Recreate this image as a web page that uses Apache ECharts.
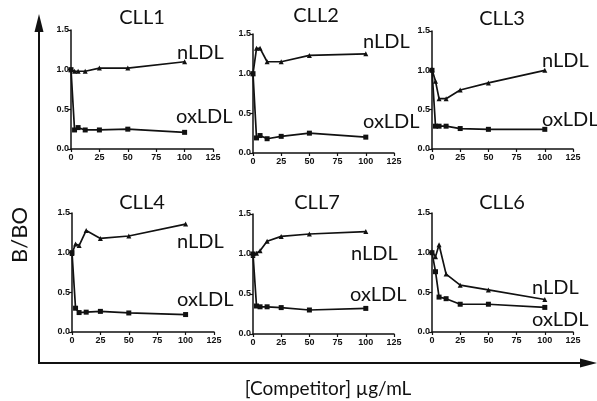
<!DOCTYPE html>
<html><head><meta charset="utf-8">
<script src="https://cdn.jsdelivr.net/npm/echarts@6/dist/echarts.min.js"></script>
<style>html,body{margin:0;padding:0;background:#fff}#c{width:597px;height:401px}</style>
</head><body><div id="c"></div>
<script>
var xValues = [0, 3.125, 6.25, 12.5, 25, 50, 100];
var panelNames = ['CLL1', 'CLL2', 'CLL3', 'CLL4', 'CLL7', 'CLL6'];
var nLDL_CLL1 = [1.00, 0.98, 0.98, 0.98, 1.02, 1.02, 1.10];
var oxLDL_CLL1 = [1.00, 0.24, 0.27, 0.24, 0.24, 0.25, 0.21];
var nLDL_CLL2 = [1.00, 1.32, 1.32, 1.15, 1.15, 1.23, 1.25];
var oxLDL_CLL2 = [1.00, 0.19, 0.22, 0.18, 0.21, 0.25, 0.20];
var nLDL_CLL3 = [1.01, 0.86, 0.64, 0.64, 0.75, 0.84, 1.00];
var oxLDL_CLL3 = [1.00, 0.29, 0.29, 0.29, 0.26, 0.25, 0.25];
var nLDL_CLL4 = [0.99, 1.11, 1.09, 1.28, 1.18, 1.21, 1.36];
var oxLDL_CLL4 = [1.00, 0.30, 0.245, 0.25, 0.26, 0.24, 0.22];
var nLDL_CLL7 = [0.98, 1.01, 1.04, 1.16, 1.22, 1.25, 1.28];
var oxLDL_CLL7 = [1.00, 0.35, 0.34, 0.34, 0.33, 0.30, 0.32];
var nLDL_CLL6 = [1.01, 0.95, 1.10, 0.73, 0.59, 0.53, 0.41];
var oxLDL_CLL6 = [1.00, 0.76, 0.44, 0.42, 0.35, 0.35, 0.31];
var yTicks = ['0.0', '0.5', '1.0', '1.5'];
var xTicks = ['0', '25', '50', '75', '100', '125'];

var nSeries = [nLDL_CLL1, nLDL_CLL2, nLDL_CLL3, nLDL_CLL4, nLDL_CLL7, nLDL_CLL6];
var oxSeries = [oxLDL_CLL1, oxLDL_CLL2, oxLDL_CLL3, oxLDL_CLL4, oxLDL_CLL7, oxLDL_CLL6];

var grids = [
  {left: 71, top: 30, width: 142, height: 119},
  {left: 253, top: 34, width: 141, height: 119},
  {left: 432, top: 31, width: 141, height: 118},
  {left: 72, top: 213, width: 142, height: 119},
  {left: 253, top: 214, width: 141, height: 120},
  {left: 432, top: 213, width: 141, height: 119}
];
var titlePos = [[142, 18], [316, 16], [502, 19], [142, 203], [317, 203], [502, 203]];
var nLabelPos = [[177, 53], [363, 42], [542, 61], [177, 242], [351, 254], [532, 288]];
var oxLabelPos = [[176, 117], [363, 122], [542, 120], [177, 300], [350, 295], [532, 320]];

var tickFont = {fontFamily: '"Liberation Sans Narrow", "Arial Narrow", "Liberation Sans", sans-serif', fontWeight: 'bold', fontSize: 9, color: '#111'};
var bigFont = 'Lato, "Open Sans", sans-serif';

var option = {
  animation: false,
  backgroundColor: '#fff',
  grid: [], xAxis: [], yAxis: [], series: [], graphic: []
};

grids.forEach(function (g, i) {
  option.grid.push(Object.assign({containLabel: false}, g));
  option.xAxis.push({
    type: 'value', gridIndex: i, min: 0, max: 125, interval: 25,
    axisLine: {show: true, onZero: false, lineStyle: {color: '#111', width: 1.5}},
    axisTick: {show: true, length: 3, lineStyle: {color: '#111', width: 1.2}},
    axisLabel: Object.assign({margin: 4, formatter: function (v) { return xTicks[Math.round(v / 25)]; }}, tickFont),
    splitLine: {show: false}
  });
  option.yAxis.push({
    type: 'value', gridIndex: i, min: 0, max: 1.5, interval: 0.5,
    axisLine: {show: true, onZero: false, lineStyle: {color: '#111', width: 1.5}},
    axisTick: {show: true, length: 3, lineStyle: {color: '#111', width: 1.2}},
    axisLabel: Object.assign({margin: 2, formatter: function (v) { return yTicks[Math.round(v / 0.5)]; }}, tickFont),
    splitLine: {show: false}
  });
  option.series.push({
    type: 'line', xAxisIndex: i, yAxisIndex: i, name: 'nLDL',
    data: xValues.map(function (x, k) { return [x, nSeries[i][k]]; }),
    symbol: 'triangle', symbolSize: 5,
    lineStyle: {color: '#111', width: 1.7}, itemStyle: {color: '#111'}
  });
  option.series.push({
    type: 'line', xAxisIndex: i, yAxisIndex: i, name: 'oxLDL',
    data: xValues.map(function (x, k) { return [x, oxSeries[i][k]]; }),
    symbol: 'rect', symbolSize: 5,
    lineStyle: {color: '#111', width: 1.7}, itemStyle: {color: '#111'}
  });
  option.graphic.push({type: 'text', x: titlePos[i][0], y: titlePos[i][1],
    style: {text: panelNames[i], fontFamily: bigFont, fontSize: 20, fill: '#111', align: 'center', verticalAlign: 'middle'}});
  option.graphic.push({type: 'text', x: nLabelPos[i][0], y: nLabelPos[i][1],
    style: {text: 'nLDL', fontFamily: bigFont, fontSize: 20, fill: '#111', align: 'left', verticalAlign: 'middle'}});
  option.graphic.push({type: 'text', x: oxLabelPos[i][0], y: oxLabelPos[i][1],
    style: {text: 'oxLDL', fontFamily: bigFont, fontSize: 20, fill: '#111', align: 'left', verticalAlign: 'middle'}});
});

// big axes with arrows
option.graphic.push({type: 'polyline', shape: {points: [[39, 30], [39, 363], [590, 363]]},
  style: {stroke: '#111', lineWidth: 2, fill: null}});
option.graphic.push({type: 'polygon', shape: {points: [[39, 14], [34.5, 32], [43.5, 32]]}, style: {fill: '#111'}});
option.graphic.push({type: 'polygon', shape: {points: [[597, 363], [580, 358.5], [580, 367.5]]}, style: {fill: '#111'}});
option.graphic.push({type: 'text', x: 20, y: 235, rotation: Math.PI / 2,
  style: {text: 'B/BO', fontFamily: bigFont, fontSize: 22, fill: '#111', align: 'center', verticalAlign: 'middle'}});
option.graphic.push({type: 'text', x: 328, y: 389,
  style: {text: '[Competitor] µg/mL', fontFamily: bigFont, fontSize: 19, fill: '#111', align: 'center', verticalAlign: 'middle'}});

var chart = echarts.init(document.getElementById('c'), null, {renderer: 'canvas'});
chart.setOption(option);
</script></body></html>
